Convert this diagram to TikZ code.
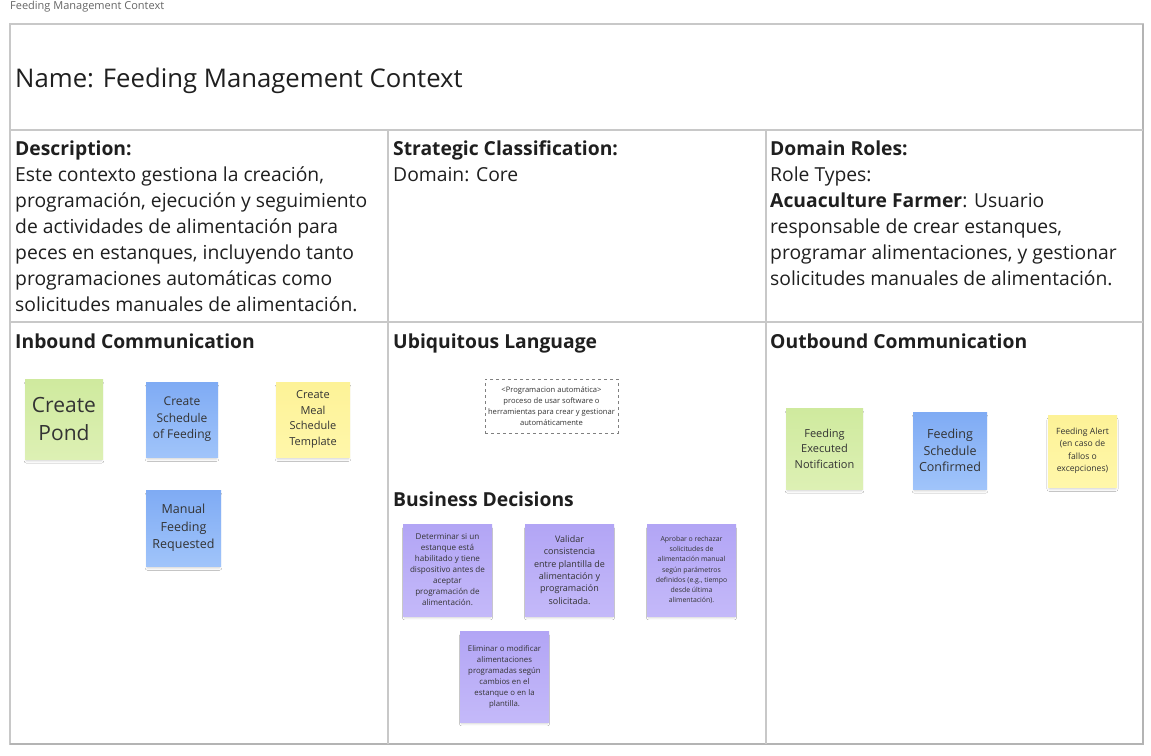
\documentclass[tikz,border=0pt]{standalone}
\usepackage{fontspec}
\setmainfont{Open Sans}
\usetikzlibrary{shadows.blur}
\definecolor{frm}{HTML}{C8C8C8}
\definecolor{frmd}{HTML}{B4B4B4}
\definecolor{txt}{HTML}{1F1F1F}
\definecolor{stxt}{HTML}{333333}
\definecolor{gtop}{HTML}{CFEA9E}
\definecolor{gbot}{HTML}{DDF0B4}
\definecolor{btop}{HTML}{7FABF4}
\definecolor{bbot}{HTML}{A0C4FA}
\definecolor{ytop}{HTML}{FDF297}
\definecolor{ybot}{HTML}{FFF7AA}
\definecolor{ptop}{HTML}{B2A5F5}
\definecolor{pbot}{HTML}{C4B9F9}
\tikzset{
  frame/.style={draw=frm, line width=1.2pt},
  body/.style={inner sep=0pt, align=left, text=txt, anchor=north west, font=\fontsize{19.3}{26}\selectfont},
  heading/.style={inner sep=0pt, text=txt, anchor=north west, font=\fontsize{19.3}{26}\selectfont\bfseries},
  sticky/.style={inner sep=0pt, align=center, text=stxt,
    blur shadow={shadow xshift=0pt, shadow yshift=-3.5pt, shadow scale=0.96, shadow blur radius=2.5pt, shadow blur steps=6, shadow opacity=20}},
  green/.style={sticky, top color=gtop, bottom color=gbot},
  blue/.style={sticky, top color=btop, bottom color=bbot},
  yellow/.style={sticky, top color=ytop, bottom color=ybot},
  purple/.style={sticky, top color=ptop, bottom color=pbot},
}
\begin{document}
\begin{tikzpicture}[x=1pt,y=-1pt]
\useasboundingbox (0,0) rectangle (1151,755);
\fill[white] (0,0) rectangle (1151,755);
\node[inner sep=0pt, anchor=west, text=black!60, font=\fontsize{11}{13}\selectfont] (cap) at (10,6.5) {Feeding Management Context};
% frame
\draw[frame] (10,24) rectangle (1143,744);
\draw[draw=frmd, line width=1.4pt] (1143,24) -- (1143,744) -- (10,744);
\draw[frame] (10,130) -- (1143,130);
\draw[frame] (10,322) -- (1143,322);
\draw[frame] (388,130) -- (388,744);
\draw[frame] (766,130) -- (766,744);
% title
\node[inner sep=0pt, anchor=west, text=txt, font=\fontsize{25.7}{31}\selectfont] (title) at (15,80.5) {Name: Feeding Management Context};
% row 2
\node[body] (desc) at (15,141) {\textbf{Description:}\\Este contexto gestiona la creación,\\programación, ejecución y seguimiento\\de actividades de alimentación para\\peces en estanques, incluyendo tanto\\programaciones automáticas como\\solicitudes manuales de alimentación.};
\node[body] (strat) at (393,141) {\textbf{Strategic Classification:}\\Domain: Core};
\node[body] (roles) at (770,141) {\textbf{Domain Roles:}\\Role Types:\\\textbf{Acuaculture Farmer}: Usuario\\responsable de crear estanques,\\programar alimentaciones, y gestionar\\solicitudes manuales de alimentación.};
% row 3 headings
\node[heading] (inb) at (15,334) {Inbound Communication};
\node[heading] (ubi) at (393,334) {Ubiquitous Language};
\node[heading] (outb) at (770,334) {Outbound Communication};
\node[heading] (bd) at (393,492) {Business Decisions};
% inbound stickies
\node[green, minimum width=78pt, minimum height=80pt, font=\fontsize{21}{28.5}\selectfont] (pond) at (64,419) {Create\\Pond};
\node[blue, minimum width=72pt, minimum height=75pt, font=\fontsize{12}{16.5}\selectfont] (sched) at (182,419.5) {Create\\Schedule\\of Feeding};
\node[yellow, minimum width=74pt, minimum height=75pt, font=\fontsize{11}{15.5}\selectfont] (meal) at (313,419.5) {Create\\Meal\\Schedule\\Template};
\node[blue, minimum width=75pt, minimum height=76pt, font=\fontsize{12.5}{17.5}\selectfont] (manual) at (183.5,528) {Manual\\Feeding\\Requested};
% ubiquitous language
\node[draw=black!50, dashed, line width=0.6pt, inner sep=0pt, minimum width=133pt, minimum height=54pt, align=center, text=stxt, font=\fontsize{7.6}{11}\selectfont] (prog) at (551.5,406) {<Programacion automática>\\proceso de usar software o\\herramientas para crear y gestionar\\automáticamente};
% business decisions
\node[purple, minimum width=89pt, minimum height=92pt, font=\fontsize{8.1}{11}\selectfont] (bd1) at (447.5,570) {Determinar si un\\estanque está\\habilitado y tiene\\dispositivo antes de\\aceptar\\programación de\\alimentación.};
\node[purple, minimum width=89pt, minimum height=92pt, font=\fontsize{9}{12.4}\selectfont] (bd2) at (569.5,570) {Validar\\consistencia\\entre plantilla de\\alimentación y\\programación\\solicitada.};
\node[purple, minimum width=89pt, minimum height=92pt, font=\fontsize{6.9}{10.2}\selectfont] (bd3) at (691.5,570) {Aprobar o rechazar\\solicitudes de\\alimentación manual\\según parámetros\\definidos (e.g., tiempo\\desde última\\alimentación).};
\node[purple, minimum width=89pt, minimum height=91pt, font=\fontsize{7.8}{11}\selectfont] (bd4) at (504.5,676.5) {Eliminar o modificar\\alimentaciones\\programadas según\\cambios en el\\estanque o en la\\plantilla.};
% outbound stickies
\node[green, minimum width=77pt, minimum height=81pt, font=\fontsize{11}{15.5}\selectfont] (exec) at (824.5,448.5) {Feeding\\Executed\\Notification};
\node[blue, minimum width=74pt, minimum height=77pt, font=\fontsize{12.5}{16.5}\selectfont] (conf) at (950,450.5) {Feeding\\Schedule\\Confirmed};
\node[yellow, minimum width=69pt, minimum height=72pt, font=\fontsize{8.6}{12.5}\selectfont] (alert) at (1082.5,451) {Feeding Alert\\(en caso de\\fallos o\\excepciones)};
\end{tikzpicture}
\end{document}
